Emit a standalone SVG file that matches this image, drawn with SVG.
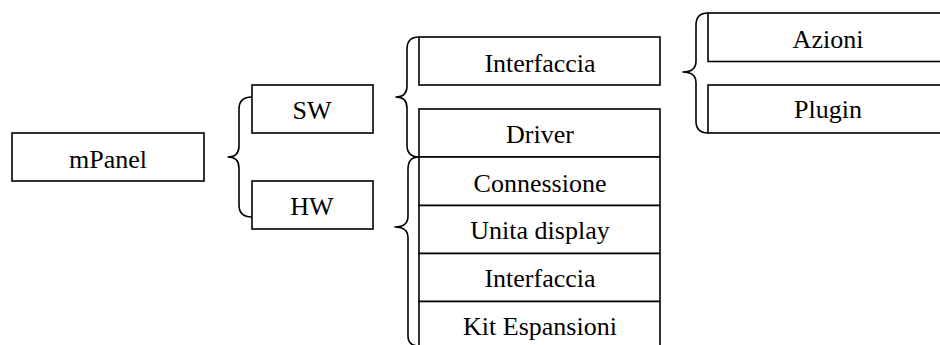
<svg xmlns="http://www.w3.org/2000/svg" width="940" height="345" viewBox="0 0 940 345">
  <style>
    .box { fill: #ffffff; stroke: #000000; stroke-width: 1.6; }
    .lbl { font-family: "Liberation Serif", "DejaVu Serif", "Times New Roman", serif; font-size: 26px; fill: #000000; text-anchor: middle; }
    .brace { fill: none; stroke: #000000; stroke-width: 1.6; stroke-linejoin: round; }
  </style>
  <rect width="940" height="345" fill="#ffffff"/>

  <!-- curly braces joining each node to its children -->
  <g id="connectors">
    <path class="brace" d="M252,97 Q239,97 239,109 L239,146 Q239,157 228,157 Q239,157 239,168 L239,205 Q239,217 252,217"/>
    <path class="brace" d="M419,37 Q407,37 407,49 L407,86 Q407,97 396,97 Q407,97 407,108 L407,145 Q407,157 419,157"/>
    <path class="brace" d="M419,157 Q408,157 408,169 L408,216 Q408,227 395,227 Q408,227 408,238 L408,336 Q408,346 419,346"/>
    <path class="brace" d="M708,13 Q696,13 696,25 L696,61 Q696,72 683,72 Q696,72 696,83 L696,121 Q696,133 708,133"/>
  </g>

  <g id="mpanel">
    <rect class="box" x="12" y="133" width="192" height="48"/>
    <text class="lbl" x="108" y="168">mPanel</text>
  </g>

  <g id="sw">
    <rect class="box" x="252" y="85" width="121" height="48"/>
    <text class="lbl" x="312" y="119">SW</text>
  </g>
  <g id="hw">
    <rect class="box" x="252" y="181" width="121" height="48"/>
    <text class="lbl" x="312" y="215">HW</text>
  </g>

  <g id="sw-interfaccia">
    <rect class="box" x="419" y="37" width="241" height="48"/>
    <text class="lbl" x="540" y="72">Interfaccia</text>
  </g>
  <g id="sw-driver">
    <rect class="box" x="419" y="109" width="241" height="48"/>
    <text class="lbl" x="540" y="143">Driver</text>
  </g>

  <g id="hw-connessione">
    <rect class="box" x="419" y="157" width="241" height="48.5"/>
    <text class="lbl" x="540" y="192">Connessione</text>
  </g>
  <g id="hw-unita-display">
    <rect class="box" x="419" y="205.5" width="241" height="48"/>
    <text class="lbl" x="540" y="239">Unita display</text>
  </g>
  <g id="hw-interfaccia">
    <rect class="box" x="419" y="253.5" width="241" height="48"/>
    <text class="lbl" x="540" y="287">Interfaccia</text>
  </g>
  <g id="hw-kit-espansioni">
    <rect class="box" x="419" y="301.5" width="241" height="50"/>
    <text class="lbl" x="540" y="335">Kit Espansioni</text>
  </g>

  <g id="azioni">
    <rect class="box" x="708" y="13" width="245" height="48.5"/>
    <text class="lbl" x="828" y="48">Azioni</text>
  </g>
  <g id="plugin">
    <rect class="box" x="708" y="85" width="245" height="48"/>
    <text class="lbl" x="828" y="118">Plugin</text>
  </g>
</svg>
